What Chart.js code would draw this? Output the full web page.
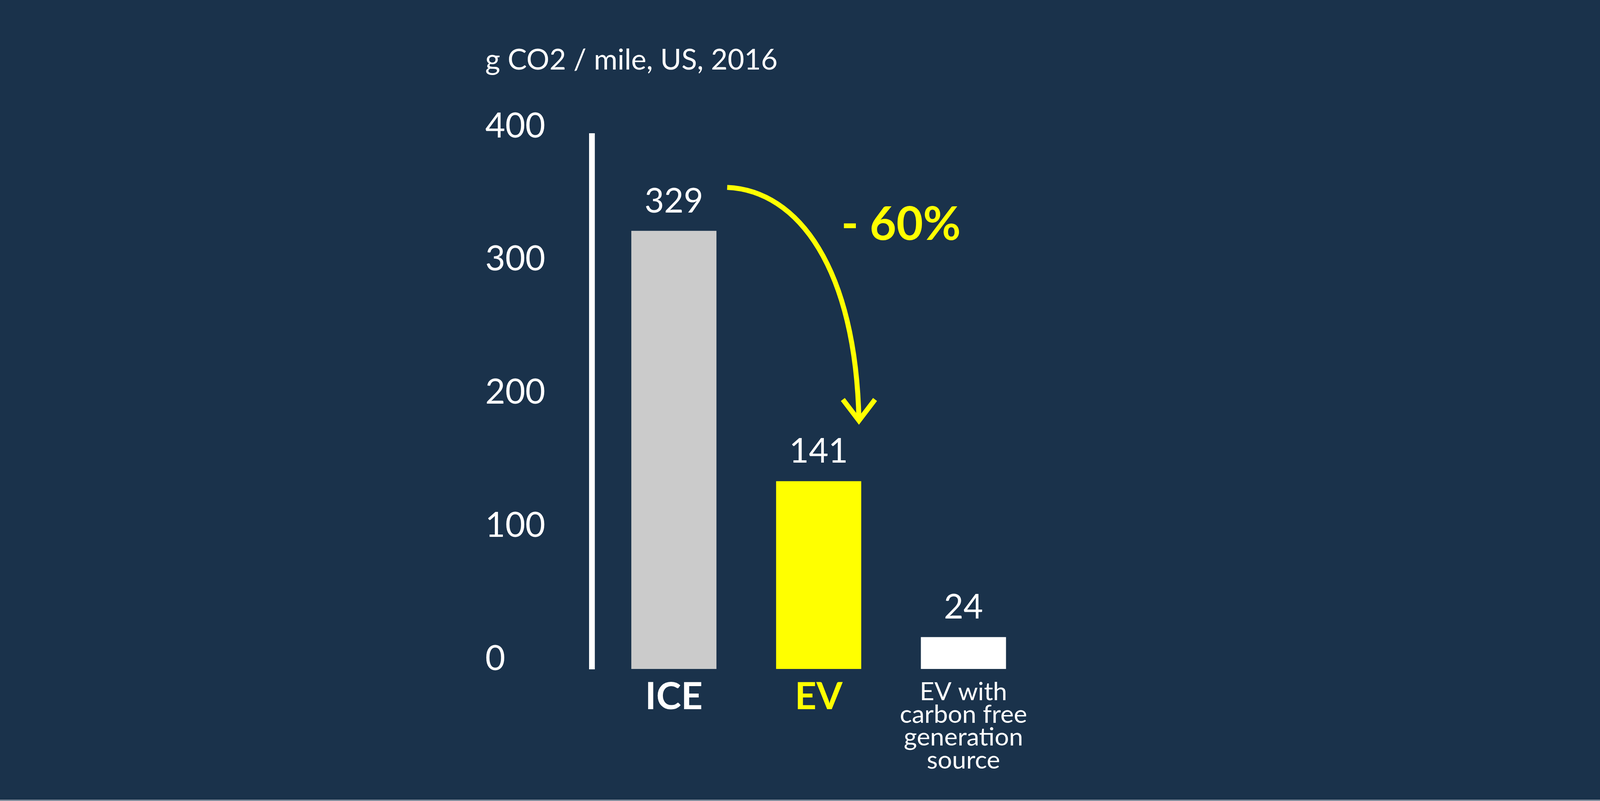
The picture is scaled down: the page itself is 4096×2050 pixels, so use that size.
<!DOCTYPE html>
<html>
<head>
<meta charset="utf-8">
<script src="https://cdn.jsdelivr.net/npm/chart.js@4.4.1/dist/chart.umd.min.js"></script>
<style>
  html, body { margin: 0; padding: 0; background: #1a324b; overflow: hidden; }
  #chart { display: block; }
</style>
</head>
<body>
<canvas id="chart" width="4096" height="2050"></canvas>
<script>
// data
var categories = ['ICE', 'EV', ['EV with', 'carbon free', 'generation', 'source']];
var values = [329, 141, 24];
var yTicks = [0, 100, 200, 300, 400];
var barColors = ['#cbcbcb', '#ffff00', '#ffffff'];
var labelColors = ['#ffffff', '#ffff00', '#ffffff'];
var titleText = 'g CO2 / mile, US, 2016';
var changeText = '- 60%';

// everything is measured on the 4167 wide reference, then scaled
var K = 0.982;
var px = function (v) { return v * K; };
var FONT = 'Lato, "Open Sans", sans-serif';

// value above each bar
var valueLabels = {
	id: 'valueLabels',
	afterDatasetsDraw: function (chart) {
		var ctx = chart.ctx;
		var meta = chart.getDatasetMeta(0);
		ctx.save();
		ctx.fillStyle = '#ffffff';
		ctx.font = px(88) + 'px ' + FONT;
		ctx.textAlign = 'center';
		ctx.textBaseline = 'alphabetic';
		meta.data.forEach(function (bar, i) {
			ctx.fillText(String(values[i]), bar.x, bar.y - px(48));
		});
		ctx.restore();
	}
};

// curved yellow arrow from ICE to EV
var dropArrow = {
	id: 'dropArrow',
	afterDatasetsDraw: function (chart) {
		var ctx = chart.ctx;
		var meta = chart.getDatasetMeta(0);
		var ice = meta.data[0], ev = meta.data[1];
		var sx = ice.x + ice.width / 2 + px(28), sy = ice.y - px(113);
		var ex = ev.x + px(105), ey = ev.y - px(158);
		ctx.save();
		ctx.strokeStyle = '#ffff00';
		ctx.lineWidth = px(13);
		ctx.beginPath();
		ctx.moveTo(sx, sy);
		ctx.bezierCurveTo(sx + px(186), sy + px(8), ex - px(8), ey - px(395), ex, ey);
		ctx.stroke();
		ctx.beginPath();
		ctx.moveTo(ex - px(42), ey - px(55));
		ctx.lineTo(ex, ey);
		ctx.lineTo(ex + px(42), ey - px(55));
		ctx.stroke();
		ctx.fillStyle = '#ffff00';
		ctx.font = 'bold ' + px(120) + 'px ' + FONT;
		ctx.textAlign = 'left';
		ctx.textBaseline = 'alphabetic';
		ctx.fillText(changeText, ex - px(46), ey - px(471));
		ctx.restore();
	}
};

// thin light edge along the bottom
var bottomEdge = {
	id: 'bottomEdge',
	afterDraw: function (chart) {
		var ctx = chart.ctx;
		ctx.save();
		ctx.fillStyle = '#c3c9d1';
		ctx.fillRect(0, chart.height - px(3), chart.width, px(2));
		ctx.restore();
	}
};

var ctx = document.getElementById('chart').getContext('2d');
new Chart(ctx, {
	type: 'bar',
	data: {
		datasets: [{
			data: values.map(function (v, i) { return { x: i, y: v }; }),
			backgroundColor: barColors,
			borderWidth: 0,
			barPercentage: 0.588,
			categoryPercentage: 1,
		}],
	},
	options: {
		responsive: false,
		animation: false,
		devicePixelRatio: 1,
		layout: {
			padding: { left: px(1265), right: px(1433), top: 0, bottom: 0 },
		},
		plugins: {
			legend: { display: false },
			tooltip: { enabled: false },
			title: {
				display: true,
				text: titleText,
				align: 'start',
				color: '#ffffff',
				font: { family: FONT, size: px(75), weight: 'normal', lineHeight: 1.2 },
				padding: { top: px(112), bottom: px(153) },
			},
		},
		scales: {
			x: {
				type: 'linear',
				offset: false,
				min: -0.565,
				max: 2.6,
				afterBuildTicks: function (axis) {
					axis.ticks = categories.map(function (c, i) { return { value: i }; });
				},
				afterFit: function (axis) { axis.height = px(344); },
				grid: { display: false, drawTicks: false, offset: false },
				border: { display: false },
				ticks: {
					padding: px(30),
					maxRotation: 0,
					autoSkip: false,
					callback: function (value) { return categories[value]; },
					color: function (c) { return labelColors[c.index]; },
					font: function (c) {
						if (c.index === 2) {
							return { family: FONT, size: px(66), weight: 'normal', lineHeight: 0.9 };
						}
						return { family: FONT, size: px(98), weight: 'bold', lineHeight: 0.88 };
					},
				},
			},
			y: {
				min: 0,
				max: 400,
				afterBuildTicks: function (axis) {
					axis.ticks = yTicks.map(function (v) { return { value: v }; });
				},
				afterFit: function (axis) { axis.width = px(278.5); },
				grid: { display: false, drawTicks: false },
				border: { display: true, color: '#ffffff', width: px(15) },
				ticks: {
					color: '#ffffff',
					crossAlign: 'far',
					labelOffset: -px(26),
					font: { family: FONT, size: px(90), weight: 'normal' },
				},
			},
		},
	},
	plugins: [valueLabels, dropArrow, bottomEdge],
});
</script>
</body>
</html>
